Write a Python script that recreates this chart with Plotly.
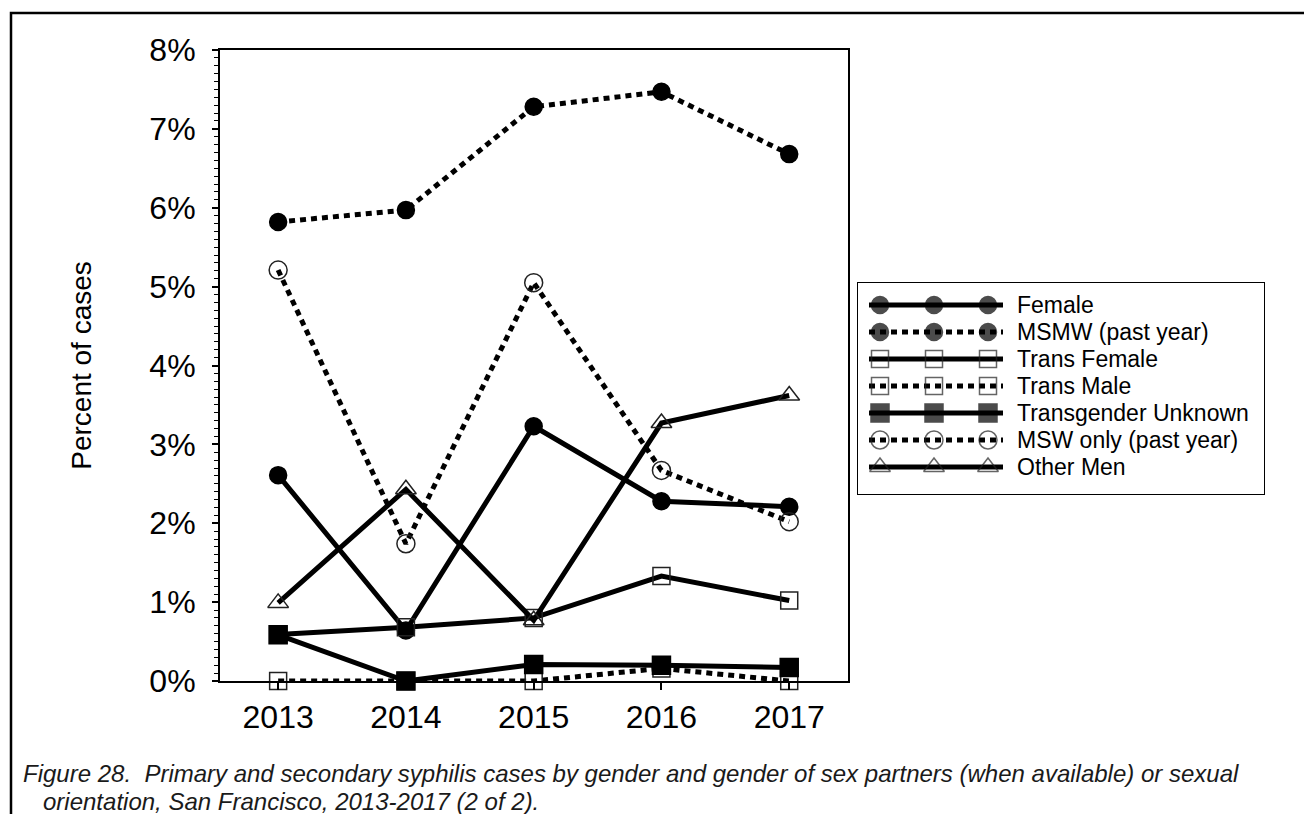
import plotly.graph_objects as go

# ---------------- data ----------------
years = [2013, 2014, 2015, 2016, 2017]
female = [2.61, 0.64, 3.23, 2.28, 2.21]
msmw = [5.82, 5.97, 7.28, 7.47, 6.68]
trans_female = [0.59, 0.68, 0.80, 1.33, 1.02]
trans_male = [0.0, 0.0, 0.0, 0.16, 0.0]
trans_unknown = [0.585, 0.0, 0.21, 0.20, 0.17]
msw_only = [5.21, 1.74, 5.05, 2.67, 2.02]
other_men = [0.99, 2.43, 0.77, 3.27, 3.62]

series_names = ["Female", "MSMW (past year)", "Trans Female", "Trans Male",
                "Transgender Unknown", "MSW only (past year)", "Other Men"]
series_values = [female, msmw, trans_female, trans_male, trans_unknown, msw_only, other_men]

y_tick_vals = [0, 1, 2, 3, 4, 5, 6, 7, 8]
y_tick_text = ["0%", "1%", "2%", "3%", "4%", "5%", "6%", "7%", "8%"]
y_title = "Percent of cases"
caption_1 = "Figure 28.  Primary and secondary syphilis cases by gender and gender of sex partners (when available) or sexual"
caption_2 = "orientation, San Francisco, 2013-2017 (2 of 2)."

# ---------------- styles ----------------
FONT = "Liberation Sans, Arial, sans-serif"
DOT = "6px,5px"
styles = [
    dict(dash="solid", symbol="circle", size=17, color="black"),
    dict(dash=DOT, symbol="circle", size=17, color="black"),
    dict(dash="solid", symbol="square-open", size=17, color="#222"),
    dict(dash=DOT, symbol="square-open", size=17, color="#222"),
    dict(dash="solid", symbol="square", size=18, color="black"),
    dict(dash=DOT, symbol="circle-open", size=18, color="#222"),
    dict(dash="solid", symbol="triangle-up-open", size=18, color="#222"),
]

W, H = 1312, 814
PL, PR, PT, PB = 212, 1290, 42, 673


def px(x):
    return (x - PL) / (PR - PL)


def py(y):
    return (PB - y) / (PB - PT)


fig = go.Figure()

for name, vals, st in zip(series_names, series_values, styles):
    fig.add_trace(go.Scatter(
        x=years, y=vals, name=name, mode="lines+markers",
        line=dict(color="black", width=5, dash=st["dash"]),
        marker=dict(symbol=st["symbol"], size=st["size"], color=st["color"],
                    line=dict(color=st["color"], width=1.5)),
        cliponaxis=False, showlegend=False,
        xaxis="x", yaxis="y",
    ))

# ---------------- custom legend (three-marker samples) ----------------
LEG_X0, LEG_X1, LEG_Y0, LEG_Y1 = 849, 1257, 274, 487
leg_rows = [297, 324, 351, 378, 405, 432, 459]
leg_line_x = [861, 872, 926, 980, 995]
for name, st, ry in zip(series_names, styles, leg_rows):
    fig.add_trace(go.Scatter(
        x=leg_line_x, y=[ry] * len(leg_line_x), mode="lines+markers",
        line=dict(color="black", width=5, dash=st["dash"]),
        marker=dict(symbol=st["symbol"], size=[0, st["size"], st["size"], st["size"], 0],
                    color=st["color"], line=dict(color=st["color"], width=1.5)),
        cliponaxis=False, showlegend=False, hoverinfo="skip",
        xaxis="x2", yaxis="y2",
    ))
    fig.add_annotation(x=1007, y=ry, xref="x2", yref="y2", text=name,
                       showarrow=False, xanchor="left", yanchor="middle",
                       font=dict(family=FONT, size=23, color="black"))

fig.add_shape(type="rect", xref="x2", yref="y2", x0=LEG_X0, x1=LEG_X1, y0=LEG_Y0, y1=LEG_Y1,
              line=dict(color="black", width=2))

# outer frame (top and left visible)
fig.add_shape(type="rect", xref="paper", yref="paper",
              x0=px(3), x1=px(1340), y0=py(5), y1=py(840),
              line=dict(color="black", width=2.5))

# caption
fig.add_annotation(x=px(13), y=py(765), xref="paper", yref="paper", text=caption_1,
                   showarrow=False, xanchor="left", yanchor="middle",
                   font=dict(family=FONT, size=24, color="#1a1a1a", style="italic"))
fig.add_annotation(x=px(33), y=py(793), xref="paper", yref="paper", text=caption_2,
                   showarrow=False, xanchor="left", yanchor="middle",
                   font=dict(family=FONT, size=24, color="#1a1a1a", style="italic"))

fig.update_layout(
    width=W, height=H,
    margin=dict(l=PL, r=W - PR, t=PT, b=H - PB, pad=0),
    paper_bgcolor="white", plot_bgcolor="white",
    font=dict(family=FONT, color="black"),
    showlegend=False,
    xaxis=dict(
        domain=[0, px(840)], range=[2012.545, 2017.46],
        tickvals=years, ticktext=[str(y) for y in years],
        showline=True, linecolor="black", linewidth=2, mirror=True,
        ticks="outside", ticklen=7, tickwidth=1.5, tickcolor="black",
        showgrid=False, zeroline=False,
        tickfont=dict(family=FONT, size=32, color="black"),
        ticklabelstandoff=0,
        anchor="y",
    ),
    yaxis=dict(
        domain=[0, 1], range=[0, 8],
        tickvals=y_tick_vals, ticktext=y_tick_text,
        showline=True, linecolor="black", linewidth=2, mirror=True,
        ticks="outside", ticklen=6, tickwidth=1.5, tickcolor="black",
        minor=dict(dtick=0.1, ticks="outside", ticklen=4, tickwidth=1.2, tickcolor="black"),
        showgrid=False, zeroline=False,
        tickfont=dict(family=FONT, size=32, color="black"),
        ticklabelstandoff=10,
        title=dict(text=y_title, font=dict(family=FONT, size=28, color="black"), standoff=50),
        anchor="x",
    ),
    xaxis2=dict(domain=[px(LEG_X0), px(LEG_X1)], range=[LEG_X0, LEG_X1], visible=False,
                anchor="y2", fixedrange=True),
    yaxis2=dict(domain=[py(LEG_Y1), py(LEG_Y0)], range=[LEG_Y1, LEG_Y0], visible=False,
                anchor="x2", fixedrange=True),
)

fig.write_html("out.html")
